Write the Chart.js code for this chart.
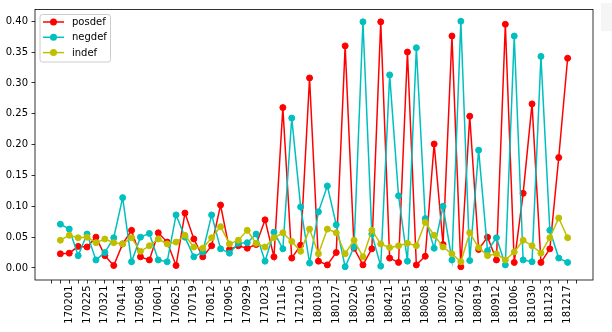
<!DOCTYPE html>
<html>
<head>
<meta charset="utf-8">
<script src="https://cdn.jsdelivr.net/npm/chart.js@4/dist/chart.umd.min.js"></script>
<style>
    body { margin: 0; background: #fff; }
    #wrap { position: relative; width: 612px; height: 332px; }
    #corner { position: absolute; left: 601px; top: 3px; width: 11px; height: 28px; background: #f5f5f5; }
</style>
</head>
<body>
<div id="wrap">
    <canvas id="defChart" width="612" height="332"></canvas>
    <div id="corner"></div>
</div>
<script>
// Acquisition dates, one per point
const dates = [
    '170120', '170201', '170213', '170225', '170309', '170321', '170402', '170414',
    '170426', '170508', '170520', '170601', '170613', '170625', '170707', '170719',
    '170731', '170812', '170824', '170905', '170917', '170929', '171011', '171023',
    '171104', '171116', '171128', '171210', '171222', '180103', '180115', '180127',
    '180208', '180220', '180304', '180316', '180328', '180421', '180503', '180515',
    '180527', '180608', '180620', '180702', '180714', '180726', '180807', '180819',
    '180831', '180912', '180924', '181006', '181018', '181030', '181111', '181123',
    '181205', '181217'
];

const posdef = [
    0.023, 0.024, 0.035, 0.034, 0.050, 0.020, 0.004, 0.039, 0.061, 0.018, 0.013, 0.057, 0.042, 0.004,
    0.089, 0.047, 0.018, 0.036, 0.102, 0.030, 0.036, 0.032, 0.038, 0.078, 0.018, 0.260, 0.016, 0.037, 0.308, 0.011,
    0.005, 0.025, 0.360, 0.032, 0.005, 0.031, 0.399, 0.016, 0.009, 0.350, 0.005, 0.019, 0.201, 0.038, 0.376, 0.002,
    0.246, 0.030, 0.050, 0.013, 0.395, 0.009, 0.121, 0.266, 0.009, 0.031, 0.179, 0.340
];

const negdef = [
    0.071, 0.063, 0.020, 0.055, 0.013, 0.025, 0.049, 0.114, 0.010, 0.050, 0.056, 0.013, 0.010, 0.086,
    0.050, 0.018, 0.026, 0.086, 0.031, 0.024, 0.040, 0.041, 0.055, 0.011, 0.058, 0.031, 0.243, 0.099, 0.008, 0.091,
    0.133, 0.070, 0.002, 0.034, 0.399, 0.055, 0.003, 0.313, 0.117, 0.011, 0.357, 0.080, 0.032, 0.100, 0.013, 0.400,
    0.012, 0.191, 0.028, 0.049, 0.005, 0.376, 0.013, 0.010, 0.343, 0.061, 0.016, 0.009
];

const indef = [
    0.045, 0.053, 0.049, 0.050, 0.041, 0.047, 0.041, 0.039, 0.049, 0.027, 0.036, 0.047, 0.039, 0.042,
    0.053, 0.034, 0.032, 0.049, 0.067, 0.039, 0.045, 0.061, 0.040, 0.034, 0.049, 0.057, 0.043, 0.027, 0.063, 0.023,
    0.063, 0.057, 0.023, 0.045, 0.018, 0.061, 0.039, 0.033, 0.036, 0.040, 0.036, 0.074, 0.053, 0.034, 0.023, 0.010,
    0.057, 0.033, 0.020, 0.023, 0.013, 0.026, 0.045, 0.036, 0.024, 0.049, 0.081, 0.049
];

const yTicks = [0, 0.05, 0.10, 0.15, 0.20, 0.25, 0.30, 0.35, 0.40];

const FONT = '10px "DejaVu Sans"';

function series(label, values, color, order) {
    return {
        label: label,
        data: values.map((v, i) => ({ x: i, y: v })),
        borderColor: color,
        backgroundColor: color,
        pointBackgroundColor: color,
        pointBorderColor: color,
        borderWidth: 1.5,
        pointRadius: 3,
        pointBorderWidth: 1,
        tension: 0,
        order: order
    };
}

// box around the plot + legend in the upper left corner
const framePlugin = {
    id: 'frame',
    afterDatasetsDraw(chart) {
        const { ctx, chartArea: a } = chart;
        ctx.save();
        ctx.strokeStyle = '#000';
        ctx.lineWidth = 0.8;
        ctx.strokeRect(a.left, a.top, a.right - a.left, a.bottom - a.top);

        const x0 = a.left + 5, y0 = a.top + 5, w = 70.5, h = 47.5;
        ctx.beginPath();
        ctx.roundRect(x0, y0, w, h, 2.5);
        ctx.fillStyle = 'rgba(255,255,255,0.8)';
        ctx.fill();
        ctx.strokeStyle = '#cccccc';
        ctx.lineWidth = 1;
        ctx.stroke();

        ctx.font = FONT;
        ctx.textBaseline = 'middle';
        const rows = [chart.data.datasets[0], chart.data.datasets[1], chart.data.datasets[2]];
        rows.forEach((ds, k) => {
            const y = y0 + 7.5 + k * 15.3;
            ctx.strokeStyle = ds.borderColor;
            ctx.lineWidth = 1.5;
            ctx.beginPath();
            ctx.moveTo(x0 + 3, y);
            ctx.lineTo(x0 + 24, y);
            ctx.stroke();
            ctx.fillStyle = ds.borderColor;
            ctx.beginPath();
            ctx.arc(x0 + 13.5, y, 3.5, 0, Math.PI * 2);
            ctx.fill();
            ctx.fillStyle = '#000';
            ctx.fillText(ds.label, x0 + 32, y + 0.5);
        });
        ctx.restore();
    }
};

new Chart(document.getElementById('defChart'), {
    type: 'line',
    data: {
        datasets: [
            series('posdef', posdef, '#ff0000', 2),
            series('negdef', negdef, '#00bfbf', 1),
            series('indef', indef, '#bfbf00', 0)
        ]
    },
    options: {
        responsive: false,
        animation: false,
        devicePixelRatio: 1,
        layout: { padding: { top: 8, right: 19, left: 0, bottom: 0 } },
        plugins: {
            legend: { display: false },
            tooltip: { enabled: false }
        },
        scales: {
            x: {
                type: 'linear',
                min: -2.85,
                max: 59.85,
                afterBuildTicks(scale) {
                    const t = [];
                    for (let i = -1; i <= 58; i++) t.push({ value: i });
                    scale.ticks = t;
                },
                afterFit(scale) { scale.height = 52; },
                grid: {
                    drawOnChartArea: false,
                    drawTicks: true,
                    tickLength: 3.5,
                    tickWidth: 0.8,
                    tickColor: '#000'
                },
                border: { display: false },
                ticks: {
                    autoSkip: false,
                    minRotation: 90,
                    maxRotation: 90,
                    padding: 2,
                    color: '#000',
                    font: { family: 'DejaVu Sans', size: 10 },
                    callback: (v) => (v >= 0 && v % 2 === 1 ? dates[v] : '')
                }
            },
            y: {
                min: -0.0195,
                max: 0.419,
                afterBuildTicks(scale) {
                    scale.ticks = yTicks.map(v => ({ value: v }));
                },
                afterFit(scale) { scale.width = 35; },
                grid: {
                    drawOnChartArea: false,
                    drawTicks: true,
                    tickLength: 3.5,
                    tickWidth: 0.8,
                    tickColor: '#000'
                },
                border: { display: false },
                ticks: {
                    padding: 3.5,
                    color: '#000',
                    font: { family: 'DejaVu Sans', size: 10 },
                    callback: (v) => v.toFixed(2)
                }
            }
        }
    },
    plugins: [framePlugin]
});
</script>
</body>
</html>
